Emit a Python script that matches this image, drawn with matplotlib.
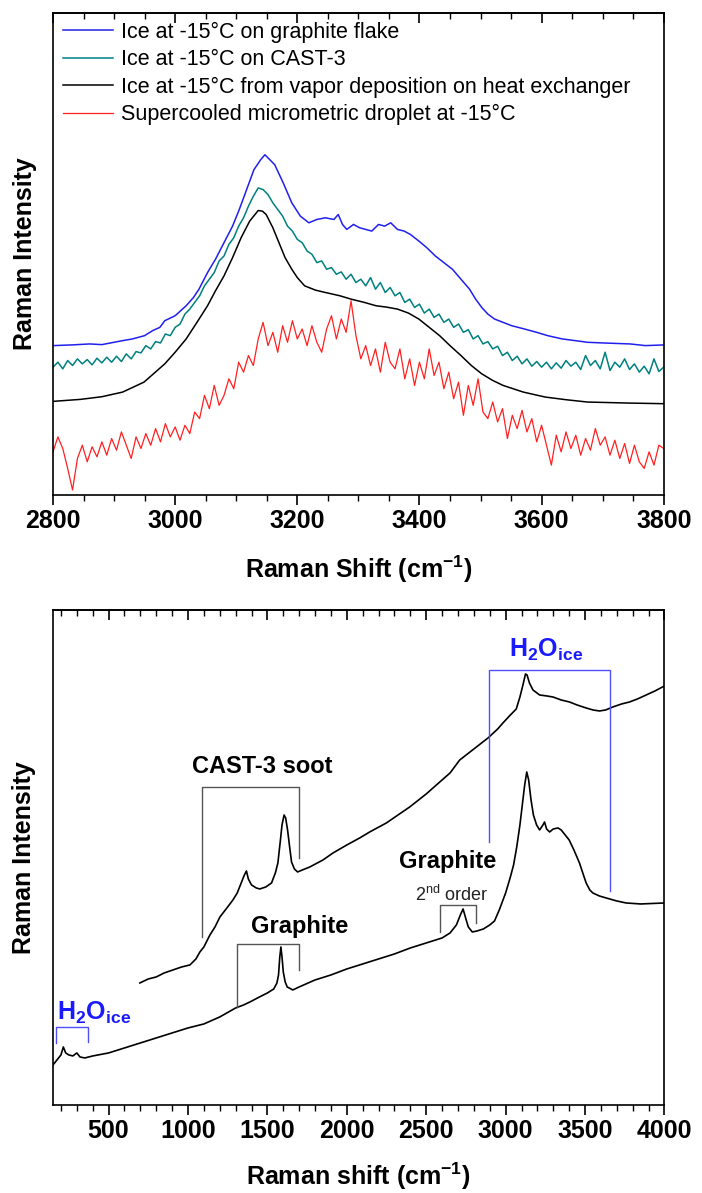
import numpy as np
import matplotlib
matplotlib.use('Agg')
import matplotlib.pyplot as plt
from matplotlib.ticker import MultipleLocator

plt.rcParams['font.family'] = ['Liberation Sans', 'DejaVu Sans']
plt.rcParams['mathtext.fontset'] = 'custom'
plt.rcParams['mathtext.rm'] = 'Liberation Sans'
plt.rcParams['mathtext.bf'] = 'Liberation Sans:bold'
plt.rcParams['mathtext.it'] = 'Liberation Sans:italic'

# ---------- top panel data (arbitrary intensity units) ----------
legend_labels = ['Ice at -15°C on graphite flake',
                 'Ice at -15°C on CAST-3',
                 'Ice at -15°C from vapor deposition on heat exchanger',
                 'Supercooled micrometric droplet at -15°C']

blue_x = [2800, 2830, 2860, 2880, 2900, 2914, 2930, 2950, 2963, 2975, 2983, 3000, 3018, 3030,
          3039, 3053, 3066, 3080, 3094, 3105, 3115, 3129, 3140, 3147, 3155, 3163, 3177, 3191,
          3205, 3219, 3232, 3246, 3260, 3267, 3274, 3281, 3292, 3302, 3312, 3322, 3333, 3343,
          3353, 3364, 3375, 3385, 3399, 3412, 3426, 3440, 3454, 3468, 3482, 3492, 3502, 3512,
          3523, 3537, 3551, 3572, 3592, 3610, 3634, 3655, 3675, 3700, 3745, 3770, 3800]
blue_y = [450, 452, 455, 453, 460, 465, 470, 480, 495, 505, 525, 540, 570, 595,
          620, 670, 710, 760, 810, 860, 910, 980, 1010, 1025, 1010, 995, 940, 880,
          840, 820, 830, 835, 830, 845, 815, 800, 815, 805, 800, 795, 815, 810,
          820, 800, 795, 785, 765, 745, 720, 700, 680, 650, 620, 590, 565, 545,
          530, 520, 510, 500, 490, 480, 470, 465, 460, 458, 455, 450, 452]

black_x = [2800, 2845, 2880, 2914, 2949, 2983, 3000, 3018, 3035, 3053, 3066, 3080, 3094, 3108,
           3122, 3136, 3143, 3149, 3160, 3170, 3180, 3191, 3200, 3212, 3230, 3246, 3270, 3288,
           3310, 3329, 3346, 3364, 3382, 3399, 3416, 3433, 3450, 3468, 3485, 3502, 3520, 3537,
           3570, 3606, 3640, 3675, 3740, 3800]
black_y = [282, 288, 296, 310, 340, 395, 430, 470, 518, 570, 615, 660, 715, 775,
           825, 857, 855, 845, 805, 760, 715, 680, 655, 630, 617, 610, 600, 590,
           580, 570, 566, 560, 548, 530, 505, 480, 450, 420, 390, 365, 345, 330,
           310, 295, 287, 280, 277, 275]

noisy_x = np.arange(2800, 3801, 8)
teal_y = [385, 400, 380, 405, 390, 410, 395, 408, 392, 412, 398, 415, 400, 418, 402, 425,
          410, 432, 428, 450, 440, 462, 458, 485, 480, 505, 515, 545, 560, 580, 600, 630,
          650, 670, 705, 720, 755, 775, 810, 835, 870, 900, 925, 920, 905, 880, 860, 840,
          810, 795, 770, 760, 735, 725, 700, 705, 680, 685, 665, 672, 650, 665, 640, 650,
          630, 655, 620, 640, 610, 625, 600, 610, 580, 590, 565, 575, 548, 560, 535, 545,
          520, 530, 505, 515, 490, 498, 470, 480, 455, 462, 440, 448, 420, 430, 405, 418,
          395, 410, 388, 402, 385, 400, 380, 398, 382, 405, 388, 400, 378, 420, 390, 405,
          380, 430, 375, 400, 385, 410, 378, 395, 370, 388, 365, 410, 372, 385]
red_y = [130, 175, 140, 80, 15, 110, 150, 100, 145, 115, 160, 120, 170, 135, 190, 150,
         110, 175, 140, 185, 150, 200, 160, 215, 175, 205, 165, 210, 185, 250, 230, 300,
         260, 330, 270, 300, 350, 320, 400, 370, 420, 390, 470, 520, 450, 490, 430, 510,
         460, 525, 470, 500, 450, 510, 460, 430, 500, 540, 470, 530, 490, 585, 480, 410,
         450, 390, 440, 370, 460, 400, 380, 440, 350, 410, 330, 400, 350, 440, 360, 400,
         320, 370, 290, 340, 240, 330, 270, 350, 250, 230, 280, 220, 260, 170, 240, 200,
         255, 190, 230, 160, 210, 150, 90, 180, 130, 190, 140, 180, 120, 170, 135, 200,
         150, 175, 120, 165, 110, 155, 95, 150, 100, 80, 130, 90, 150, 140]

# ---------- bottom panel data ----------
graphite_x = [150, 175, 200, 215, 230, 250, 275, 300, 320, 350, 400, 500, 600, 700, 800, 900,
              1000, 1100, 1200, 1300, 1350, 1390, 1450, 1500, 1540, 1560, 1570, 1578, 1585,
              1592, 1600, 1612, 1625, 1660, 1700, 1800, 1900, 2000, 2100, 2200, 2300, 2400,
              2500, 2600, 2650, 2690, 2715, 2732, 2750, 2765, 2790, 2820, 2860, 2900, 2930,
              2960, 3000, 3030, 3050, 3070, 3090, 3105, 3120, 3133, 3145, 3160, 3175, 3195,
              3214, 3235, 3245, 3258, 3277, 3300, 3330, 3350, 3375, 3400, 3430, 3465, 3490,
              3507, 3530, 3549, 3590, 3633, 3700, 3759, 3850, 4000]
graphite_y = [40, 45, 50, 58, 52, 50, 49, 52, 48, 47, 49, 52, 57, 62, 67, 72,
              77, 81, 88, 97, 100, 103, 108, 112, 116, 122, 130, 148, 158,
              148, 133, 123, 118, 115, 118, 125, 130, 136, 141, 146, 151, 157,
              162, 167, 172, 180, 190, 196, 186, 178, 173, 174, 176, 180, 184,
              195, 212, 228, 240, 258, 280, 300, 320, 333, 325, 305, 290, 280,
              275, 280, 283, 276, 273, 276, 277, 275, 270, 265, 255, 242, 230,
              222, 215, 212, 209, 207, 204, 202, 201, 202]

cast_x = [697, 750, 800, 850, 905, 960, 1012, 1050, 1075, 1100, 1138, 1170, 1201, 1240, 1283,
          1310, 1335, 1355, 1368, 1380, 1400, 1430, 1452, 1490, 1526, 1550, 1566, 1580, 1592,
          1605, 1615, 1627, 1640, 1652, 1670, 1690, 1720, 1767, 1850, 1913, 2000, 2081, 2144,
          2249, 2396, 2500, 2564, 2650, 2711, 2800, 2889, 2950, 2983, 3030, 3067, 3090, 3109,
          3125, 3135, 3150, 3172, 3214, 3260, 3298, 3350, 3402, 3450, 3507, 3550, 3591, 3630,
          3675, 3730, 3780, 3830, 3885, 3940, 4000]
cast_y = [122, 126, 128, 132, 135, 138, 140, 146, 153, 158, 170, 178, 188, 196, 205,
          212, 222, 230, 234, 226, 220, 217, 216, 218, 222, 232, 242, 262, 280,
          290, 287, 275, 258, 243, 236, 233, 235, 238, 245, 252, 260, 267, 273,
          282, 298, 311, 320, 332, 345, 356, 367, 376, 382, 390, 396, 408, 420,
          431, 430, 422, 415, 410, 409, 408, 405, 403, 400, 397, 395, 394, 395,
          398, 401, 403, 406, 410, 414, 419]

# brackets: (left, right, top, left bottom, right bottom, colour)
brackets = [(169, 372, 78, 62, 63, '#4f4fff'),
            (1090, 1699, 318, 168, 247, '#555555'),
            (1306, 1700, 161, 98, 135, '#555555'),
            (2585, 2811, 200, 173, 182, '#555555'),
            (2895, 3659, 435, 263, 214, '#4f4fff')]

h2o_label = r'$\mathbf{H_2O_{ice}}$'
# annotations: (text, x, y, size, weight, colour)
notes = [(h2o_label, 408, 92, 18, 'bold', '#1a1aff'),
         (h2o_label, 3255, 455, 18, 'bold', '#1a1aff'),
         ('CAST-3 soot', 1465, 338, 17, 'bold', 'black'),
         ('Graphite', 1700, 178, 17, 'bold', 'black'),
         ('Graphite', 2635, 243, 17, 'bold', 'black'),
         (r'2$^{\mathrm{nd}}$ order', 2660, 210, 13, 'normal', '#222222')]


def style_axis(ax, major, minor):
    for s in ax.spines.values():
        s.set_linewidth(1.2)
    ax.set_yticks([])
    ax.xaxis.set_major_locator(MultipleLocator(major))
    ax.xaxis.set_minor_locator(MultipleLocator(minor))
    ax.tick_params(axis='x', which='major', direction='out', length=7, width=1.2,
                   labelsize=18, pad=3)
    ax.tick_params(axis='x', which='minor', direction='out', length=4, width=1.0)
    for lab in ax.get_xticklabels():
        lab.set_fontweight('bold')
    top = ax.secondary_xaxis('top')
    top.xaxis.set_major_locator(MultipleLocator(major))
    top.xaxis.set_minor_locator(MultipleLocator(minor))
    top.tick_params(which='major', direction='in', length=7, width=1.2, labeltop=False)
    top.tick_params(which='minor', direction='in', length=4, width=1.0)
    top.spines['top'].set_linewidth(1.2)
    ax.yaxis.set_label_coords(-0.027, 0.5)


fig = plt.figure(figsize=(7.02, 11.93), dpi=100)
ax1 = fig.add_axes([0.0755, 0.5851, 0.870, 0.404])
ax2 = fig.add_axes([0.0755, 0.0738, 0.871, 0.4149])

# top panel
ax1.plot(blue_x, blue_y, color='#2020ee', lw=1.1, label=legend_labels[0])
ax1.plot(noisy_x, teal_y, color='#008080', lw=1.1, label=legend_labels[1])
ax1.plot(black_x, black_y, color='black', lw=1.1, label=legend_labels[2])
ax1.plot(noisy_x, red_y, color='#ff2020', lw=0.9, label=legend_labels[3])
ax1.set_xlim(2800, 3800)
ax1.set_ylim(0, 1452)
style_axis(ax1, 200, 50)
ax1.set_xlabel('Raman Shift (cm$^{\\mathbf{-1}}$)', fontsize=18, fontweight='bold', labelpad=15)
ax1.set_ylabel('Raman Intensity', fontsize=18, fontweight='bold')
ax1.legend(loc='upper left', bbox_to_anchor=(0.0164, 0.982), frameon=False, fontsize=15.5,
           borderpad=0, borderaxespad=0, handlelength=2.3, handletextpad=0.4,
           labelspacing=0.3)

# bottom panel
ax2.plot(graphite_x, graphite_y, color='black', lw=1.2)
ax2.plot(cast_x, cast_y, color='black', lw=1.2)
for left, right, top, lb, rb, col in brackets:
    ax2.plot([left, left, right, right], [lb, top, top, rb], color=col, lw=1.0)
for txt, x, y, size, weight, col in notes:
    ax2.text(x, y, txt, fontsize=size, fontweight=weight, color=col, ha='center', va='center')
ax2.set_xlim(150, 4000)
ax2.set_ylim(0, 495)
style_axis(ax2, 500, 100)
ax2.set_xlabel('Raman shift (cm$^{\\mathbf{-1}}$)', fontsize=18, fontweight='bold', labelpad=13)
ax2.set_ylabel('Raman Intensity', fontsize=18, fontweight='bold')

fig.savefig('out.png', dpi=100)
